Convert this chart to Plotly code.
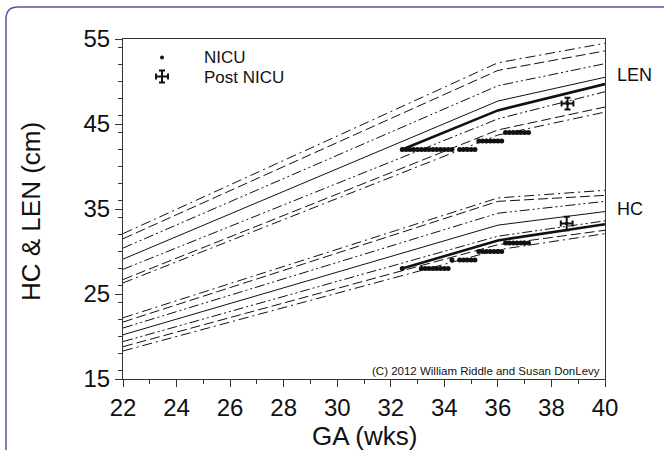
import plotly.graph_objects as go

# ---------------- data ----------------
ref_ga = [22, 36, 40]
# LEN reference curves (top -> bottom)
len_curves = [
    [32.1, 52.2, 54.5],
    [31.5, 51.3, 53.6],
    [30.4, 49.5, 52.1],
    [29.1, 47.7, 50.5],
    [27.9, 45.6, 48.8],
    [26.7, 44.3, 47.0],
    [26.3, 43.7, 46.4],
]
# HC reference curves (top -> bottom)
hc_curves = [
    [22.2, 36.3, 37.2],
    [21.7, 35.9, 36.6],
    [21.0, 34.5, 35.9],
    [20.2, 33.1, 34.7],
    [19.4, 31.8, 33.6],
    [18.8, 30.8, 32.5],
    [18.3, 30.2, 32.1],
]
curve_dash = ["10px,4px,2px,4px", "10px,4px", "10px,3px,2px,3px,2px,3px", "solid",
              "10px,3px,2px,3px,2px,3px", "10px,4px", "10px,4px,2px,4px"]

# patient projected curves
pat_ga = [32.43, 36, 40]
pat_len = [42.0, 46.6, 49.7]
pat_hc = [28.0, 31.3, 33.2]

# NICU daily measurements (GA in days)
nicu_len_days = [227, 228, 229, 230, 231, 232, 233, 234, 235, 236, 237, 238, 239, 240,
                 242, 243, 244, 245, 246, 247, 248, 249, 250, 251, 252, 253,
                 254, 255, 256, 257, 258, 259, 260]
nicu_len = [42, 42, 42, 42, 42, 42, 42, 42, 42, 42, 42, 42, 42, 42,
            42, 42, 42, 42, 42, 43, 43, 43, 43, 43, 43, 43,
            44, 44, 44, 44, 44, 44, 44]
nicu_hc_days = [227, 232, 233, 234, 235, 236, 237, 238, 239, 240,
                242, 243, 244, 245, 246, 247, 248, 249, 250, 251, 252, 253,
                254, 255, 256, 257, 258, 259, 260]
nicu_hc = [28, 28, 28, 28, 28, 28, 28, 28, 28, 29,
           29, 29, 29, 29, 29, 30, 30, 30, 30, 30, 30, 30,
           31, 31, 31, 31, 31, 31, 31]

# Post NICU measurements
post_ga = [38.6, 38.57]
post_val = [47.4, 33.3]
post_ga_err = [0.22, 0.22]
post_val_err = [0.7, 0.8]

FONT = "Arial, 'Liberation Sans', sans-serif"
INK = "#111111"

fig = go.Figure()

for curves in (len_curves, hc_curves):
    for vals, dash in zip(curves, curve_dash):
        fig.add_trace(go.Scatter(x=ref_ga, y=vals, mode="lines",
                                 line=dict(color=INK, width=1, dash=dash),
                                 showlegend=False, hoverinfo="skip"))

for vals in (pat_len, pat_hc):
    fig.add_trace(go.Scatter(x=pat_ga, y=vals, mode="lines",
                             line=dict(color=INK, width=2.6), showlegend=False))

fig.add_trace(go.Scatter(x=[d / 7 for d in nicu_len_days], y=nicu_len, mode="markers",
                         marker=dict(color=INK, size=5), showlegend=False))
fig.add_trace(go.Scatter(x=[d / 7 for d in nicu_hc_days], y=nicu_hc, mode="markers",
                         marker=dict(color=INK, size=5), showlegend=False))

fig.add_trace(go.Scatter(x=post_ga, y=post_val, mode="markers",
                         marker=dict(color=INK, size=3, symbol="square"),
                         error_x=dict(type="data", array=post_ga_err, color=INK, thickness=2, width=3),
                         error_y=dict(type="data", array=post_val_err, color=INK, thickness=2, width=3),
                         showlegend=False))

# plot geometry in pixels (for decorations)
L, R, T, B = 123, 605, 39, 379
W, H = R - L, B - T
def px(x):
    return (x - L) / W
def py(y):
    return (B - y) / H

shapes = []
# legend glyphs
shapes.append(dict(type="circle", xref="paper", yref="paper",
                   x0=px(160), x1=px(164), y0=py(59.5), y1=py(55.5),
                   fillcolor=INK, line=dict(color=INK, width=0)))
cx, cy = 162, 76.5
for (x0, y0, x1, y1) in [(cx - 6, cy, cx + 6, cy), (cx, cy - 6, cx, cy + 6),
                         (cx - 6, cy - 3, cx - 6, cy + 3), (cx + 6, cy - 3, cx + 6, cy + 3),
                         (cx - 3, cy - 6, cx + 3, cy - 6), (cx - 3, cy + 6, cx + 3, cy + 6)]:
    shapes.append(dict(type="line", xref="paper", yref="paper",
                       x0=px(x0), x1=px(x1), y0=py(y0), y1=py(y1),
                       line=dict(color=INK, width=2)))
# outer rounded border (top-left corner)
bx, by, r = 6, 7, 12
path = (f"M {px(bx)},{py(470)} L {px(bx)},{py(by + r)} "
        f"Q {px(bx)},{py(by)} {px(bx + r)},{py(by)} L {px(700)},{py(by)}")
shapes.append(dict(type="path", xref="paper", yref="paper", path=path,
                   line=dict(color="#5b52a3", width=1.5)))

def note(text, x, y, size, xanchor="left", **kw):
    return dict(text=text, x=px(x), y=py(y), xref="paper", yref="paper",
                xanchor=xanchor, yanchor="middle", showarrow=False,
                font=dict(size=size, color=INK, family=FONT), **kw)

annotations = [
    note("NICU", 202, 57, 17),
    note("Post NICU", 202, 77.5, 17),
    note("LEN", 615, 75, 18),
    note("HC", 615, 209, 18),
    note("(C) 2012 William Riddle and Susan DonLevy", 602, 371, 11.5, xanchor="right"),
    note("GA (wks)", 364, 436, 26, xanchor="center"),
    note("HC & LEN (cm)", 31, 212, 26, xanchor="center", textangle=-90),
]

fig.update_layout(
    width=664, height=450,
    margin=dict(l=L, r=664 - R, t=T, b=450 - B, pad=0),
    paper_bgcolor="white", plot_bgcolor="white",
    showlegend=False,
    shapes=shapes, annotations=annotations,
    font=dict(family=FONT, color=INK),
    xaxis=dict(range=[22, 40], tick0=22, dtick=2, ticks="outside", ticklen=7, tickwidth=1,
               tickcolor="#333", showline=True, linecolor="#333", linewidth=1, mirror=True,
               showgrid=False, zeroline=False, tickfont=dict(size=24, color=INK),
               minor=dict(dtick=1, ticks="outside", ticklen=4, tickcolor="#333", showgrid=False)),
    yaxis=dict(range=[15, 55], tick0=15, dtick=10, ticks="outside", ticklen=7, tickwidth=1,
               tickcolor="#333", showline=True, linecolor="#333", linewidth=1, mirror=True,
               showgrid=False, zeroline=False, tickfont=dict(size=24, color=INK),
               minor=dict(dtick=2, ticks="outside", ticklen=4, tickcolor="#333", showgrid=False)),
)

fig.write_html("out.html")
